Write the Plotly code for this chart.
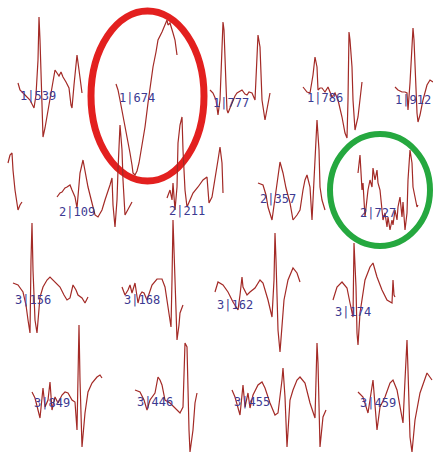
import plotly.graph_objects as go

# Beat captions, one per recorded segment ("" = untitled fragment)
labels = ["1|539", "1|674", "1|777", "1|786", "1|912",
          "", "2|109", "2|211", "2|357", "2|727",
          "3|156", "3|168", "3|162", "3|174",
          "3|849", "3|446", "3|455", "3|459"]

# Sample times (local, from segment start) and amplitudes (positive = up)
t_1539 = [0, 2, 7, 12, 16, 18, 20, 21, 22, 23, 24, 25, 27, 30, 34, 37, 39, 41, 43, 45, 48, 51, 53, 54, 56, 59, 61, 64]
v_1539 = [0, -7, -12, -17, -25, -12, 23, 66, 43, 3, -27, -54, -45, -27, -2, 13, 10, 7, 11, 6, 1, -5, -22, -25, -2, 28, 13, -10]

t_1674 = [0, 2, 4, 7, 9, 12, 14, 16, 17, 19, 21, 23, 26, 29, 32, 35, 37, 40, 42, 46, 49, 51, 52, 54, 57, 59, 61]
v_1674 = [0, -6, -16, -31, -43, -58, -69, -81, -89, -91, -87, -79, -63, -43, -19, 2, 17, 32, 44, 52, 59, 64, 59, 61, 51, 44, 29]

t_1777 = [0, 3, 6, 8, 10, 12, 13, 14, 15, 16, 17, 18, 20, 23, 25, 27, 30, 32, 35, 37, 39, 42, 45, 47, 48, 50, 51, 52, 55, 58, 60]
v_1777 = [0, -3, -10, -25, -10, 40, 68, 60, 40, 5, -20, -23, -18, -10, -6, -3, -1, 0, -4, -5, -2, -3, -10, 30, 55, 43, 15, -10, -30, -15, -3]

t_1786 = [0, 4, 7, 10, 12, 14, 15, 17, 19, 22, 25, 27, 29, 32, 35, 39, 42, 44, 45, 46, 47, 49, 50, 52, 55, 59]
v_1786 = [0, -5, -6, 12, 30, 20, -3, -1, -1, -5, 0, -6, -10, -6, -13, -30, -46, -51, -13, 55, 47, 20, -13, -43, -30, 5]

t_1912 = [0, 3, 7, 10, 12, 13, 15, 17, 18, 19, 20, 22, 23, 25, 28, 32, 35, 38]
v_1912 = [0, -3, -5, -5, -6, -23, 4, 42, 59, 47, 20, -26, -35, -28, -13, 2, 7, 5]

t_frag = [0, 2, 4, 5, 7, 9, 10, 12, 14]
v_frag = [0, 8, 10, -7, -27, -44, -47, -42, -39]

t_2109 = [0, 3, 5, 8, 10, 13, 15, 18, 20, 23, 26, 28, 31, 35, 38, 41, 45, 48, 51, 53, 55, 56, 58, 60, 61, 63, 65, 66, 68, 71, 75]
v_2109 = [0, 4, 5, 9, 10, 12, 7, 0, -11, 24, 37, 27, 10, -6, -18, -20, -13, -3, 5, 12, 19, -8, -30, -3, 27, 72, 47, 17, -18, -13, -5]

t_2211 = [0, 3, 5, 6, 8, 10, 11, 13, 15, 16, 18, 20, 23, 26, 31, 36, 40, 42, 45, 48, 51, 53, 55, 56]
v_2211 = [0, 8, -2, 15, -12, 11, 55, 73, 81, 48, 8, -9, -2, 5, 11, 18, 21, -5, 1, 18, 38, 51, 35, 5]

t_2357 = [0, 5, 8, 10, 14, 17, 19, 22, 25, 28, 32, 35, 39, 42, 45, 47, 49, 52, 54, 55, 57, 59, 61, 62, 64, 67]
v_2357 = [0, -2, -12, -24, -37, -17, -4, 21, 10, -5, -20, -37, -32, -27, -7, 3, 8, -4, -37, -20, 23, 63, 33, -4, -17, -27]

t_2727 = [0, 2, 4, 5, 7, 9, 10, 12, 14, 15, 17, 19, 20, 22, 24, 25, 27, 29, 30, 32, 34, 35, 37, 39, 40, 42, 44, 45, 47, 49, 50, 52, 54, 55, 57, 59, 60]
v_2727 = [0, 18, -17, -10, -44, -20, -17, -7, -14, 5, -7, 3, -10, -17, -34, -47, -40, -54, -44, -57, -47, -52, -37, -47, -34, -24, -44, -29, -57, -40, -7, 23, 10, -14, -24, -34, -32]

t_3156 = [0, 5, 10, 13, 15, 17, 18, 19, 20, 22, 24, 27, 30, 34, 37, 42, 47, 51, 54, 57, 60, 63, 65, 69, 72, 75]
v_3156 = [0, -2, -9, -22, -37, -50, 23, 60, 13, -37, -50, -14, -4, 3, 6, 1, -4, -12, -17, -15, -2, -7, -12, -15, -20, -14]

t_3168 = [0, 3, 6, 8, 10, 13, 16, 18, 20, 22, 25, 28, 30, 35, 40, 43, 46, 49, 50, 51, 52, 53, 55, 57, 58, 61]
v_3168 = [0, -8, -3, 2, -6, 4, -16, -8, -5, -6, -13, -3, 2, 8, 8, 0, -20, -40, 7, 67, 37, 0, -53, -38, -26, -18]

t_3162 = [0, 3, 8, 13, 18, 23, 25, 27, 28, 30, 32, 35, 40, 45, 48, 53, 57, 59, 60, 61, 62, 63, 65, 67, 69, 73, 78, 82, 85]
v_3162 = [0, 10, 7, 0, -10, -18, -3, 15, 5, 0, -3, 0, 4, 12, 9, -8, -25, 12, 59, 32, -8, -38, -60, -28, -8, 12, 24, 19, 10]

t_3174 = [0, 4, 9, 14, 17, 20, 21, 22, 23, 24, 25, 27, 32, 37, 40, 44, 49, 54, 59, 60, 61, 62]
v_3174 = [0, 13, 18, 12, -3, -17, 57, 40, 13, -33, -45, -13, 20, 33, 37, 23, 10, 0, -3, 20, 5, 3]

t_3849 = [0, 3, 6, 8, 11, 13, 16, 18, 20, 23, 26, 30, 33, 36, 40, 43, 45, 46, 47, 48, 49, 50, 53, 56, 60, 65, 68, 70]
v_3849 = [0, -6, -18, -26, 4, -15, -8, 10, -18, -5, -11, -3, 0, -1, -8, -10, -38, 12, 67, 12, -38, -55, -21, 0, 9, 15, 17, 14]

t_3446 = [0, 5, 9, 12, 15, 17, 20, 23, 25, 27, 30, 35, 40, 45, 48, 49, 50, 52, 53, 54, 55, 57, 58, 60, 62]
v_3446 = [0, -2, -10, -20, -10, -7, -3, 13, 10, 5, -10, -13, -18, -23, -17, 20, 47, 43, -10, -40, -62, -50, -40, -13, -3]

t_3455 = [0, 3, 8, 11, 13, 16, 18, 21, 26, 30, 33, 38, 43, 46, 50, 51, 53, 55, 58, 61, 65, 68, 73, 78, 83, 84, 85, 86, 87, 88, 91, 94]
v_3455 = [0, -7, -25, 5, -17, -3, -18, -5, 5, 8, 2, -13, -25, -23, 10, 22, -7, -57, -10, 0, 10, 13, 7, -13, -28, 10, 47, 27, -10, -57, -27, -20]

t_3459 = [0, 5, 10, 15, 17, 19, 22, 27, 32, 35, 39, 42, 45, 47, 49, 50, 52, 54, 57, 62, 69, 74]
v_3459 = [0, -5, -21, 12, -13, -38, -15, -5, 9, 12, 2, -15, -31, 12, 52, 22, -45, -60, -28, -1, 19, 12]

times = [t_1539, t_1674, t_1777, t_1786, t_1912, t_frag, t_2109, t_2211, t_2357, t_2727,
         t_3156, t_3168, t_3162, t_3174, t_3849, t_3446, t_3455, t_3459]
values = [v_1539, v_1674, v_1777, v_1786, v_1912, v_frag, v_2109, v_2211, v_2357, v_2727,
          v_3156, v_3168, v_3162, v_3174, v_3849, v_3446, v_3455, v_3459]

# Placement of each segment on the page: (start x, baseline y, caption dx, caption dy)
placement = [(18, 83, 0, 13), (116, 84, 1, 14), (210, 90, 1, 13), (303, 87, 2, 11), (395, 87, -2, 13),
             (8, 163, 0, 0), (57, 197, 0, 15), (167, 198, 0, 13), (258, 183, 0, 16), (358, 173, 0, 40),
             (13, 283, 0, 17), (122, 287, 0, 13), (215, 292, 0, 13), (333, 300, 0, 12),
             (32, 392, 0, 11), (135, 390, 0, 12), (232, 390, 0, 12), (358, 392, 0, 11)]

W, H = 433, 452
LINE = "#a32a26"
TEXT = "#3c3a92"

fig = go.Figure()
annotations = []
for lab, ts, vs, (x0, y0, dx, dy) in zip(labels, times, values, placement):
    fig.add_trace(go.Scatter(
        x=[x0 + t for t in ts], y=[y0 - v for v in vs],
        mode="lines", line=dict(color=LINE, width=1.2),
        hoverinfo="skip", showlegend=False))
    if lab:
        annotations.append(dict(
            x=x0 + dx, y=y0 + dy, xref="x", yref="y", text=lab,
            showarrow=False, xanchor="left", yanchor="middle",
            font=dict(family="DejaVu Sans Mono", size=12, color=TEXT)))

# Highlight rings around two segments
shapes = [
    dict(type="circle", xref="x", yref="y", x0=91, x1=204, y0=11, y1=181,
         line=dict(color="#e3201f", width=7), layer="below"),
    dict(type="circle", xref="x", yref="y", x0=330, x1=430, y0=134, y1=246,
         line=dict(color="#25a83f", width=6), layer="below"),
]

fig.update_layout(
    width=W, height=H, margin=dict(l=0, r=0, t=0, b=0),
    paper_bgcolor="white", plot_bgcolor="white",
    xaxis=dict(range=[0, W], visible=False, fixedrange=True),
    yaxis=dict(range=[H, 0], visible=False, fixedrange=True),
    annotations=annotations, shapes=shapes,
)

fig.write_html("out.html", config={"displayModeBar": False})
